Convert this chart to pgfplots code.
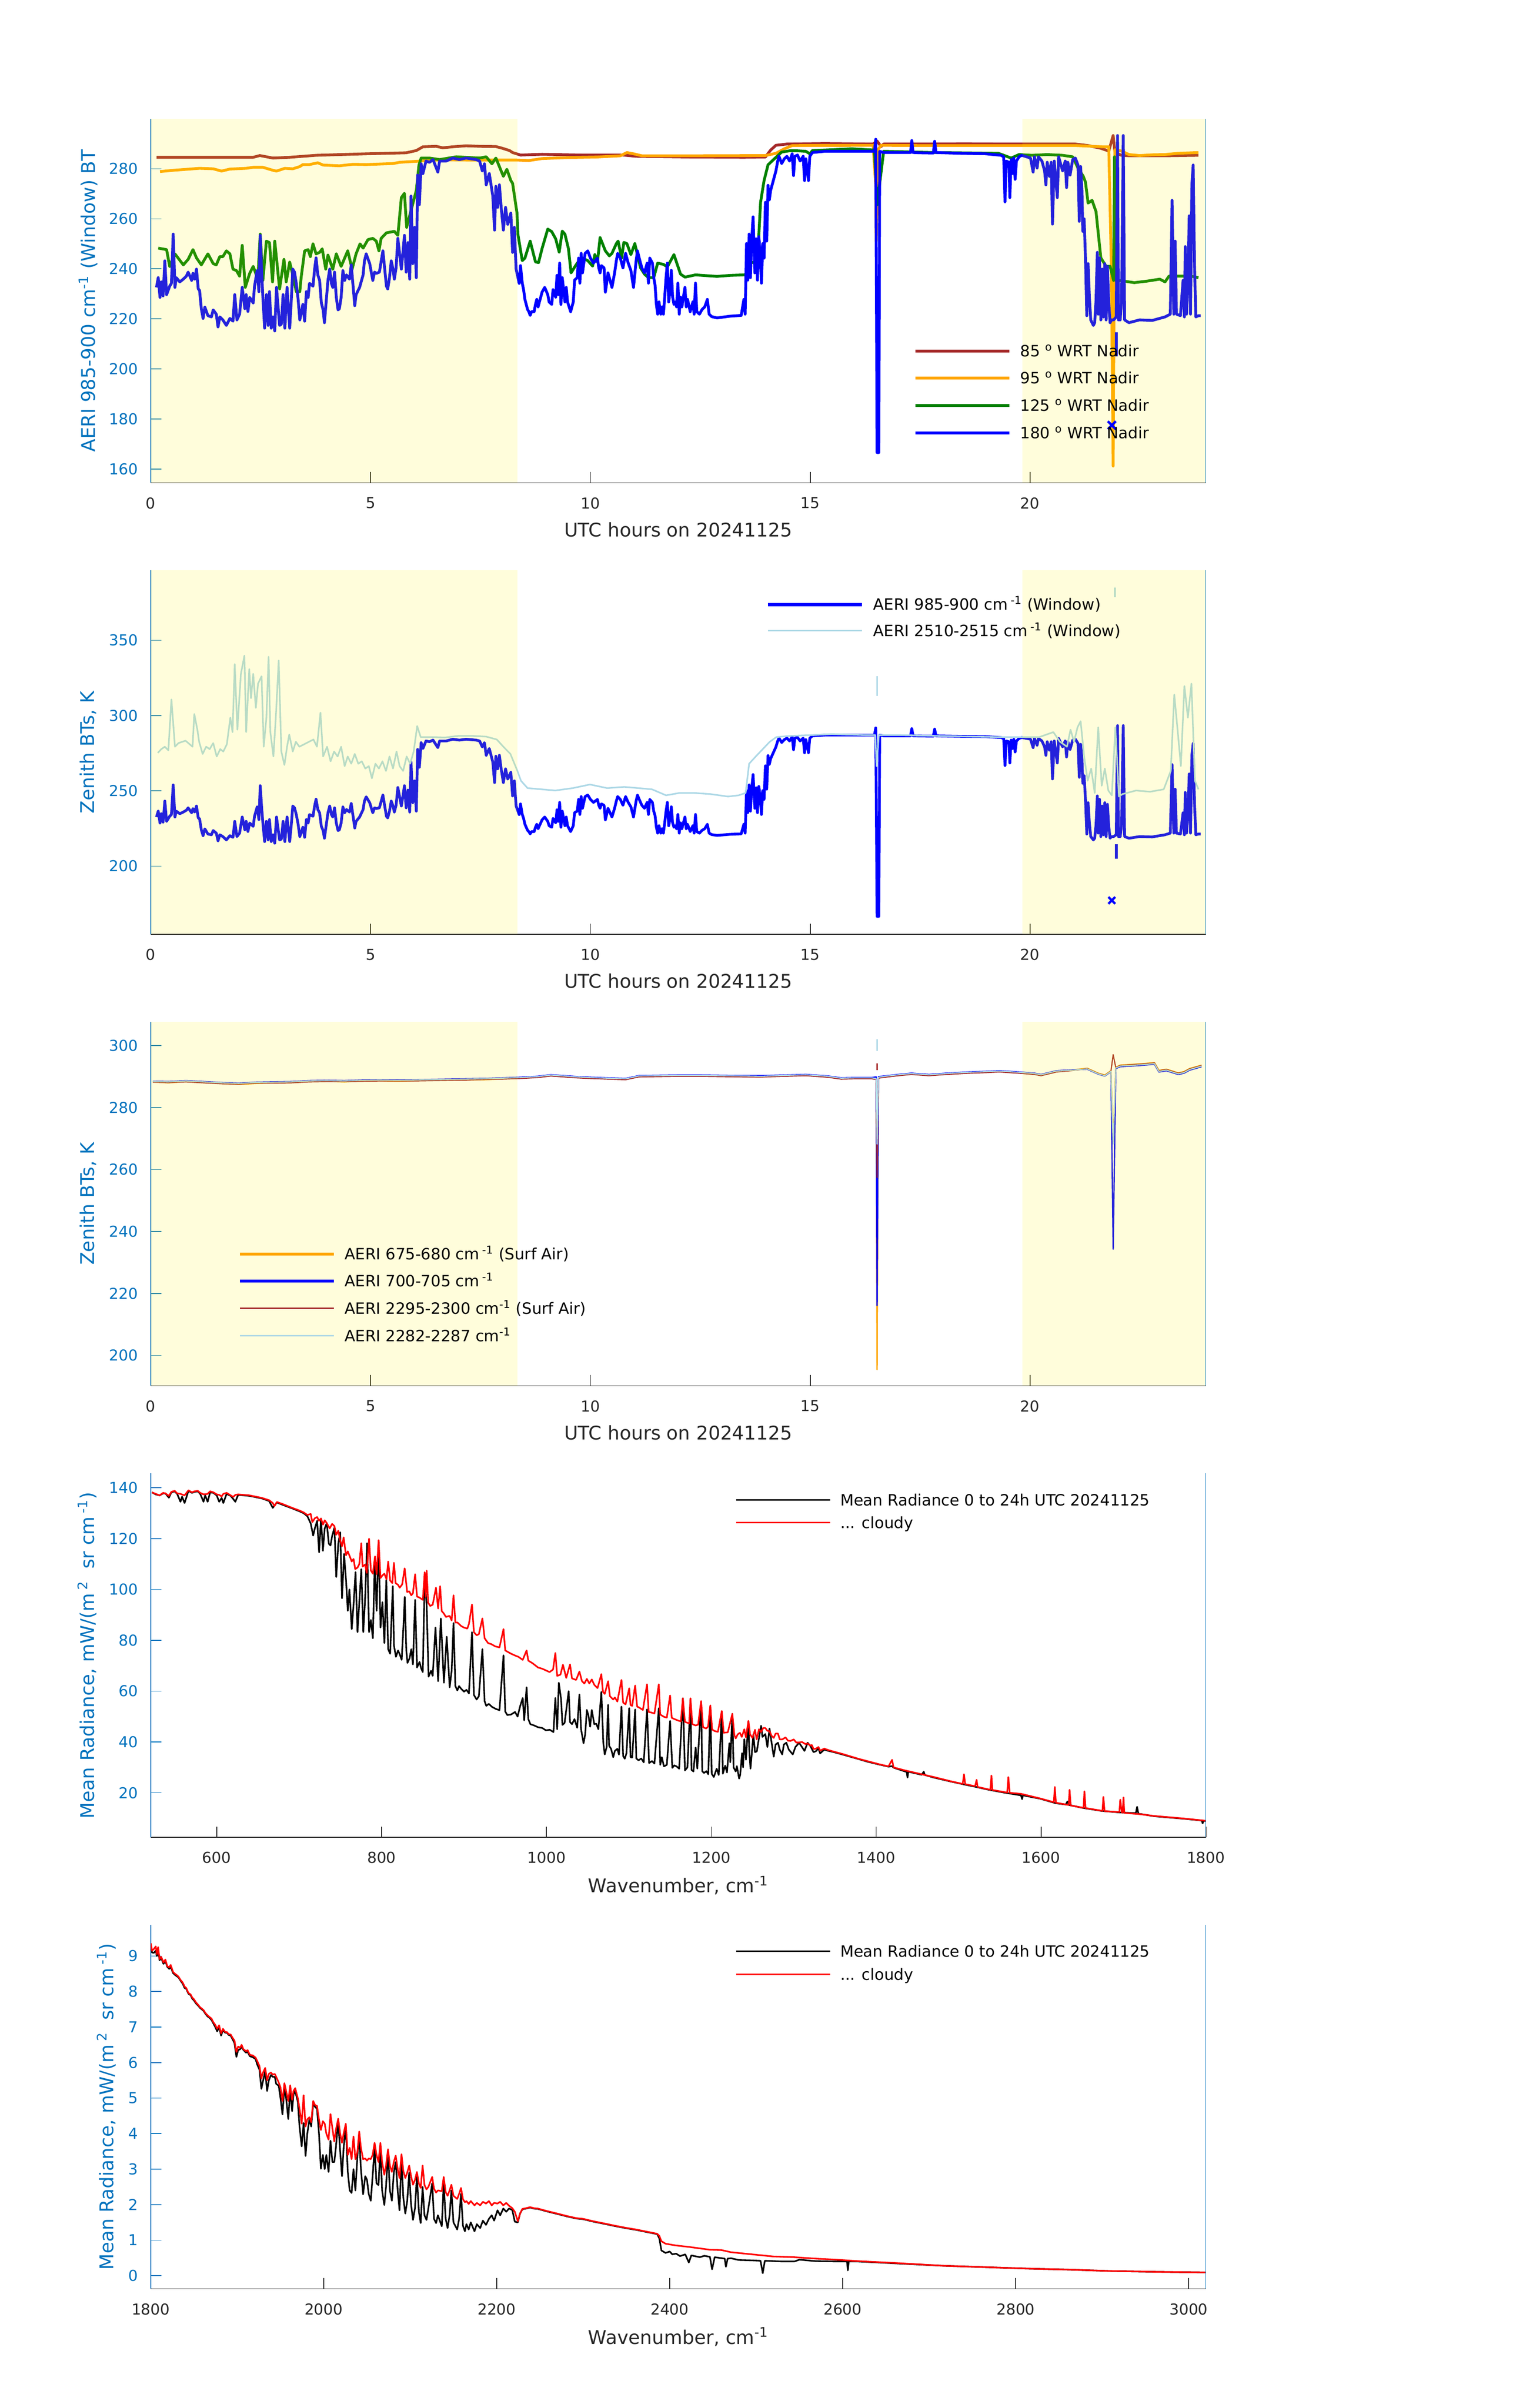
\documentclass[border=0pt]{standalone}
\usepackage{fontspec}
\setmainfont{DejaVu Sans}
\usepackage{pgfplots}
\usepackage{pgfplotstable}
\pgfplotsset{compat=1.18}
\definecolor{matblue}{HTML}{0072BD}
\definecolor{axgray}{HTML}{262626}
\definecolor{cbrown}{HTML}{A52A2A}
\definecolor{corange}{HTML}{FFA500}
\definecolor{cgreen}{HTML}{008000}
\definecolor{cblue}{HTML}{0000FF}
\definecolor{clblue}{HTML}{ADD8E6}
\pgfplotsset{
  base/.style={
    scale only axis, width=657pt, height=226.75pt,
    separate axis lines,
    axis x line*=bottom, axis y line*=left,
    tick align=inside, major tick length=6.6pt,
    x axis line style={axgray, line width=0.5pt},
    y axis line style={matblue, line width=0.5pt},
    xtick style={axgray, line width=0.5pt},
    ytick style={matblue, line width=0.5pt},
    minor tick num=0,
    tick label style={font=\fontsize{9.4}{11}\selectfont},
    xticklabel style={axgray, yshift=-5.6pt},
    yticklabel style={matblue, xshift=-4.4pt},
    /pgf/number format/assume math mode=true,
    /pgf/number format/1000 sep={},
    scaled ticks=false,
    label style={font=\fontsize{11.75}{14}\selectfont},
    xlabel style={axgray, at={(axis description cs:0.5,0)}, anchor=base, yshift=-33.5pt},
    ylabel style={matblue, at={(axis description cs:0,0.5)}, anchor=base},
    legend cell align=left,
    legend style={draw=none, fill=none, inner sep=0pt, outer sep=0pt, anchor=north west,
      font=\fontsize{9.7}{11}\selectfont, column sep=6pt, row sep=0pt},
    legend image code/.code={\draw[##1] (0pt,0pt) -- (58.5pt,0pt);},
    every axis plot/.append style={line join=round},
  }
}
\pgfplotstableread{
h v
0.13 284.6
1.20 284.6
2.33 284.6
2.48 285.3
2.63 284.8
2.78 284.3
3.16 284.6
3.76 285.4
4.90 286.0
5.81 286.4
6.04 287.3
6.19 288.8
6.49 289.0
6.64 288.4
6.87 288.8
7.17 289.2
7.48 289.0
7.85 288.9
8.00 288.2
8.16 287.3
8.23 286.5
8.41 285.5
8.90 285.8
9.82 285.5
10.74 285.5
11.04 285.0
12.27 284.7
13.49 284.6
13.98 284.7
14.10 287.5
14.22 289.4
14.47 289.9
15.33 290.1
16.43 289.9
16.52 291.1
16.61 288.9
16.67 289.9
17.50 289.9
18.50 290.0
19.50 289.9
21.03 289.9
21.32 289.3
21.61 288.2
21.79 287.1
21.89 293.3
21.93 286.5
22.08 285.4
22.25 285.2
23.07 285.2
23.83 285.4
}\tbrown
\pgfplotstableread{
h v
0.21 278.9
0.51 279.4
0.89 279.9
1.11 280.2
1.42 280.0
1.61 279.1
1.80 279.9
2.17 280.2
2.33 280.6
2.55 280.6
2.78 279.4
2.86 279.1
3.05 280.2
3.23 280.0
3.39 280.9
3.46 281.7
3.61 281.7
3.80 282.4
3.92 281.5
4.29 281.2
4.60 281.8
4.90 281.7
5.51 282.1
5.66 282.6
6.04 283.0
6.42 283.4
6.64 283.6
7.17 283.5
8.31 283.5
8.60 283.3
8.90 284.1
9.52 284.5
10.13 284.7
10.68 285.2
10.83 286.5
10.98 286.0
11.17 285.2
12.27 285.2
13.98 285.3
14.22 286.2
14.41 288.0
14.59 289.3
16.43 289.4
16.49 273.4
16.50 251.0
16.55 287.9
16.61 289.4
17.50 289.3
19.00 289.3
21.03 289.3
21.67 288.8
21.79 288.8
21.85 239.9
21.89 161.2
21.93 287.6
22.08 287.1
22.25 285.7
22.49 285.3
22.78 285.6
23.07 285.7
23.36 286.2
23.83 286.5
}\torange
\pgfplotstableread{
h v
0.17 248.3
0.36 247.7
0.43 241.0
0.55 246.0
0.74 241.6
0.85 243.8
0.96 247.7
1.04 244.4
1.15 241.6
1.30 246.0
1.42 242.1
1.49 241.6
1.57 244.9
1.64 244.9
1.72 247.2
1.80 246.0
1.87 239.9
1.95 239.3
2.02 237.1
2.08 249.4
2.15 232.6
2.25 238.2
2.33 241.0
2.40 237.6
2.44 237.6
2.49 253.9
2.55 235.4
2.63 251.1
2.70 250.5
2.77 234.8
2.82 251.1
2.93 232.0
3.03 243.8
3.08 234.8
3.16 242.7
3.23 237.6
3.31 230.9
3.39 230.9
3.42 236.5
3.50 247.2
3.58 247.7
3.63 244.9
3.69 250.0
3.76 246.0
3.84 246.6
3.90 248.0
3.98 239.9
4.03 245.5
4.14 239.9
4.22 246.0
4.33 241.0
4.48 247.2
4.58 239.9
4.67 246.0
4.76 250.0
4.83 248.3
4.94 251.7
5.05 252.2
5.13 251.1
5.19 247.2
5.24 252.2
5.36 254.4
5.54 255.0
5.62 253.4
5.70 268.5
5.77 270.2
5.82 256.6
6.04 271.4
6.10 281.5
6.15 284.3
6.34 284.3
6.57 283.7
6.95 284.8
7.48 284.3
7.63 284.8
7.76 282.0
7.85 284.3
8.02 277.0
8.10 279.8
8.19 275.3
8.23 274.2
8.33 262.3
8.35 253.9
8.45 243.3
8.51 244.3
8.63 251.1
8.75 242.8
8.82 242.5
8.90 248.1
9.03 255.9
9.12 254.9
9.21 252.0
9.29 246.7
9.36 255.1
9.42 253.9
9.50 248.1
9.56 238.4
9.63 240.4
9.70 242.3
9.82 244.3
9.94 243.3
10.05 241.1
10.10 245.7
10.16 242.8
10.22 252.5
10.34 247.2
10.43 245.2
10.49 246.2
10.59 250.1
10.63 251.1
10.71 244.3
10.76 250.6
10.83 250.1
10.92 245.7
11.01 250.1
11.14 240.4
11.23 237.9
11.32 236.5
11.44 236.5
11.53 242.3
11.66 241.8
11.75 240.8
11.90 245.7
12.05 237.9
12.15 236.7
12.39 237.6
12.63 237.3
12.88 237.0
13.18 237.4
13.49 237.6
13.55 237.9
13.64 242.3
13.80 243.3
13.87 266.6
13.95 275.3
14.04 281.6
14.16 283.6
14.35 286.7
14.53 287.2
14.71 287.2
14.90 287.0
14.99 286.0
15.05 287.3
15.33 287.5
15.94 288.0
16.46 287.5
16.52 265.6
16.67 287.0
17.83 286.5
19.28 286.2
19.57 284.3
19.75 285.7
20.04 285.4
20.39 285.7
20.74 285.4
20.97 284.8
21.09 280.3
21.21 277.0
21.26 274.7
21.32 266.3
21.41 267.4
21.50 262.9
21.55 254.4
21.61 244.4
21.73 241.0
21.82 241.0
21.90 235.4
21.92 284.8
21.95 235.4
22.02 235.4
22.37 234.5
22.66 235.1
22.95 235.9
23.07 234.8
23.16 237.1
23.36 237.1
23.65 237.1
23.83 236.5
}\tgreen
\pgfplotstableread{
h v
0.13 232.6
0.17 236.5
0.21 228.6
0.24 234.8
0.28 229.2
0.32 243.2
0.36 229.7
0.43 233.1
0.47 234.2
0.51 253.9
0.55 232.6
0.58 236.5
0.66 234.8
0.74 235.9
0.81 237.1
0.85 238.7
0.93 235.4
0.96 238.2
1.00 235.9
1.04 239.9
1.08 232.0
1.11 231.4
1.15 224.1
1.19 220.2
1.23 224.7
1.30 221.3
1.38 220.8
1.42 223.6
1.49 221.9
1.53 216.8
1.57 220.8
1.64 219.6
1.72 217.4
1.80 220.2
1.87 219.1
1.91 229.7
1.96 219.6
2.02 221.9
2.08 232.6
2.14 224.1
2.17 229.7
2.21 223.0
2.25 228.6
2.33 226.4
2.36 233.1
2.42 239.3
2.46 230.9
2.49 253.4
2.52 239.9
2.55 228.6
2.59 216.3
2.63 229.7
2.67 217.4
2.70 230.9
2.74 216.3
2.78 220.8
2.82 215.2
2.86 232.6
2.93 217.4
2.97 217.9
3.01 229.7
3.05 216.3
3.10 232.6
3.16 216.3
3.20 228.6
3.23 239.9
3.27 238.7
3.31 234.2
3.35 228.1
3.39 219.6
3.46 225.8
3.50 219.1
3.54 230.9
3.58 228.6
3.61 234.2
3.69 233.1
3.73 240.4
3.76 244.4
3.80 237.6
3.84 235.4
3.88 226.4
3.92 223.6
3.95 218.5
4.03 235.4
4.07 239.9
4.11 234.2
4.14 232.6
4.18 238.7
4.22 228.6
4.26 223.6
4.29 224.1
4.33 228.6
4.37 239.3
4.41 235.4
4.45 237.6
4.52 235.9
4.56 241.6
4.64 225.3
4.67 229.7
4.75 232.6
4.83 237.6
4.86 243.2
4.90 246.0
4.98 242.1
5.05 235.4
5.09 238.7
5.13 238.2
5.20 238.7
5.28 247.2
5.36 233.1
5.39 232.0
5.43 236.5
5.47 243.2
5.51 239.9
5.54 235.9
5.58 240.4
5.62 252.2
5.70 239.9
5.73 245.5
5.77 253.4
5.81 238.7
5.85 250.5
5.89 235.9
5.92 269.1
5.96 242.1
6.00 256.6
6.04 236.5
6.07 277.5
6.11 265.7
6.15 282.0
6.19 278.1
6.26 283.1
6.34 282.6
6.42 283.7
6.53 278.7
6.57 283.1
6.72 283.1
6.87 284.3
7.02 283.7
7.17 284.3
7.40 283.7
7.48 283.1
7.54 279.2
7.59 282.0
7.63 273.6
7.70 278.1
7.78 269.1
7.82 255.5
7.85 273.0
7.89 264.6
7.93 273.6
7.97 264.6
8.02 255.5
8.07 264.6
8.12 257.8
8.19 262.3
8.23 246.6
8.27 256.6
8.31 239.9
8.38 234.2
8.41 241.3
8.45 234.3
8.48 231.7
8.51 227.8
8.54 225.8
8.57 223.8
8.60 222.9
8.63 221.4
8.66 222.9
8.72 222.9
8.75 225.8
8.78 227.8
8.81 224.8
8.84 226.8
8.87 228.7
8.90 230.7
8.96 232.6
9.03 229.7
9.06 226.8
9.12 225.8
9.15 231.7
9.21 228.7
9.24 237.4
9.27 229.7
9.30 242.3
9.33 225.8
9.36 236.5
9.42 226.8
9.45 232.6
9.48 226.8
9.55 222.9
9.61 226.8
9.64 235.5
9.70 236.5
9.73 244.3
9.76 234.3
9.79 246.2
9.82 238.4
9.88 246.2
9.94 247.2
10.00 244.3
10.07 242.3
10.16 244.3
10.19 240.4
10.22 238.4
10.25 241.3
10.31 240.4
10.34 230.7
10.37 234.3
10.40 238.4
10.43 236.5
10.49 232.6
10.55 238.4
10.59 243.3
10.62 246.2
10.68 244.3
10.74 240.4
10.80 246.2
10.86 242.3
10.92 239.4
10.98 232.6
11.04 243.3
11.07 247.2
11.11 244.3
11.17 240.4
11.23 238.4
11.29 242.3
11.32 234.3
11.35 244.3
11.41 242.3
11.44 236.5
11.47 233.6
11.50 225.8
11.53 221.9
11.56 226.8
11.60 221.9
11.63 224.8
11.66 221.9
11.69 228.7
11.72 236.5
11.75 242.3
11.78 226.8
11.81 230.7
11.84 239.4
11.87 228.7
11.90 225.8
11.93 226.8
11.96 224.8
11.99 234.3
12.02 221.9
12.05 228.7
12.08 224.8
12.15 232.6
12.18 224.8
12.21 227.8
12.27 222.9
12.33 226.8
12.36 221.9
12.39 234.3
12.42 222.9
12.48 221.9
12.54 223.8
12.60 224.8
12.66 227.8
12.70 221.9
12.76 220.9
12.88 220.4
13.18 221.1
13.43 221.4
13.49 227.8
13.52 221.9
13.55 250.1
13.58 235.5
13.61 253.9
13.64 236.5
13.67 252.0
13.70 260.8
13.74 238.4
13.77 252.0
13.80 235.5
13.83 252.9
13.86 247.2
13.89 234.3
13.92 250.1
13.95 244.3
13.98 266.6
14.01 251.1
14.04 273.4
14.07 267.6
14.10 271.4
14.16 275.3
14.22 279.2
14.26 283.1
14.29 285.0
14.35 282.1
14.41 284.0
14.47 285.0
14.53 283.1
14.59 286.0
14.62 277.3
14.65 285.0
14.71 285.5
14.77 283.1
14.84 285.0
14.87 275.3
14.90 284.0
14.96 275.3
14.99 285.0
15.05 286.5
15.33 287.0
15.94 287.0
16.46 287.0
16.49 291.8
16.52 166.6
16.56 166.6
16.58 287.0
16.67 286.5
17.28 286.5
17.31 291.3
17.34 286.5
17.50 286.4
17.80 286.3
17.83 291.0
17.86 286.5
18.41 286.2
18.99 286.0
19.34 285.4
19.40 284.8
19.43 266.8
19.46 283.1
19.52 282.6
19.54 268.5
19.57 283.7
19.60 278.1
19.63 284.3
19.66 275.8
19.69 283.1
19.75 284.8
19.81 285.4
19.92 284.8
20.01 284.3
20.07 278.7
20.10 284.8
20.16 280.3
20.19 284.8
20.27 283.1
20.33 279.2
20.36 273.6
20.39 282.6
20.44 277.0
20.48 282.6
20.51 257.9
20.55 283.1
20.62 268.5
20.65 284.8
20.74 279.2
20.80 283.1
20.83 272.5
20.86 282.6
20.91 277.5
20.97 283.7
21.03 284.3
21.09 281.5
21.12 259.0
21.15 280.9
21.18 271.4
21.20 255.0
21.23 260.0
21.26 244.4
21.29 221.3
21.32 242.1
21.35 228.6
21.38 219.6
21.41 218.5
21.44 217.4
21.47 218.5
21.50 227.5
21.53 246.6
21.55 221.9
21.58 244.4
21.61 219.6
21.64 239.9
21.67 220.8
21.70 242.1
21.73 219.6
21.76 241.0
21.79 226.4
21.82 218.5
21.85 219.6
21.90 219.6
21.96 220.8
21.99 293.3
22.01 219.6
22.05 219.6
22.08 226.4
22.12 293.3
22.15 219.6
22.25 218.5
22.49 219.6
22.78 219.4
23.07 220.8
23.19 221.9
23.23 267.4
23.27 221.9
23.30 251.1
23.33 221.9
23.42 221.3
23.48 235.4
23.51 220.8
23.53 248.9
23.56 221.9
23.59 235.4
23.62 261.2
23.65 221.9
23.68 273.6
23.71 281.5
23.74 242.1
23.77 220.8
23.83 221.3
23.88 221.3
}\tblue
\pgfplotstableread{
h v
0.16 275.2
0.24 277.7
0.32 279.3
0.40 276.9
0.47 310.7
0.55 279.3
0.63 281.7
0.79 283.3
0.95 279.3
0.99 301.0
1.06 290.6
1.10 282.6
1.18 274.5
1.26 279.3
1.34 277.7
1.42 281.7
1.50 272.8
1.58 277.7
1.65 276.1
1.73 280.9
1.81 298.6
1.86 289.0
1.91 334.2
1.97 290.6
2.05 327.7
2.13 339.8
2.17 289.0
2.24 330.9
2.28 311.5
2.33 327.7
2.39 305.1
2.44 321.2
2.52 326.1
2.57 279.3
2.63 298.6
2.68 339.0
2.72 289.0
2.79 272.8
2.85 301.9
2.91 336.6
2.97 276.1
3.04 267.2
3.10 279.3
3.15 287.4
3.23 276.1
3.30 282.6
3.38 279.3
3.54 281.7
3.70 284.1
3.78 279.3
3.86 301.9
3.92 272.8
4.01 279.3
4.09 269.6
4.17 276.1
4.25 272.8
4.33 279.3
4.41 266.4
4.48 272.8
4.56 268.0
4.64 274.5
4.72 268.0
4.80 269.6
4.88 264.8
4.96 266.4
5.03 258.3
5.11 268.0
5.19 264.8
5.27 269.6
5.35 263.2
5.43 272.8
5.51 264.8
5.59 276.1
5.66 266.4
5.74 263.2
5.82 272.8
5.90 268.0
5.98 276.1
6.06 293.0
6.14 285.7
6.37 285.7
6.69 285.4
7.00 286.5
7.32 286.5
7.63 286.0
7.87 284.1
8.02 279.3
8.18 274.5
8.34 263.2
8.42 256.7
8.57 251.8
8.89 251.0
9.20 250.2
9.60 251.8
9.99 254.2
10.38 251.8
10.77 252.6
11.09 251.8
11.40 251.0
11.72 247.0
12.03 248.6
12.35 248.6
12.74 247.8
13.13 246.2
13.37 247.0
13.53 248.6
13.61 268.0
13.76 272.8
13.92 277.7
14.08 282.6
14.23 285.7
14.55 286.5
15.02 287.0
15.49 287.7
16.28 287.0
16.48 287.0
16.51 266.4
16.56 287.0
17.07 287.0
17.85 286.5
18.64 286.0
19.42 285.7
20.21 285.7
20.53 289.0
20.68 282.6
20.84 279.3
20.92 290.6
21.00 282.6
21.08 292.2
21.15 296.2
21.23 272.8
21.31 256.7
21.39 264.8
21.47 248.6
21.55 292.2
21.63 253.4
21.70 264.8
21.78 250.2
21.86 247.0
21.94 292.2
22.02 246.2
22.10 247.8
22.41 250.2
22.73 249.4
23.04 251.0
23.20 263.2
23.28 314.0
23.36 289.0
23.43 266.4
23.51 319.6
23.59 298.6
23.67 321.2
23.75 256.7
23.83 251.0
}\tlblue
\pgfplotstableread{
h o b r l
0.05 288.3 288.5 288.2 288.4
0.4 288.0 288.4 288.1 288.3
0.8 288.4 288.7 288.3 288.6
1.2 288.1 288.4 288.0 288.3
1.6 287.8 288.1 287.7 288.0
2.0 287.5 287.9 287.6 287.8
2.4 287.8 288.2 287.9 288.1
2.8 288.0 288.3 287.9 288.2
3.2 288.1 288.4 288.0 288.3
3.6 288.4 288.7 288.3 288.6
4.0 288.5 288.8 288.4 288.7
4.4 288.3 288.7 288.4 288.6
4.8 288.6 288.9 288.5 288.8
5.2 288.7 289.0 288.6 288.9
5.6 288.5 288.9 288.6 288.8
6.0 288.7 289.0 288.6 288.9
6.4 288.8 289.1 288.7 289.0
6.8 288.9 289.2 288.8 289.1
7.2 289.0 289.3 288.9 289.2
7.6 289.0 289.4 289.1 289.3
8.0 289.3 289.6 289.2 289.5
8.4 289.5 289.8 289.4 289.7
8.8 289.8 290.1 289.7 290.0
9.1 290.3 290.6 290.2 290.5
9.4 290.0 290.3 289.9 290.2
9.7 289.7 290.0 289.6 289.9
10.0 289.5 289.8 289.4 289.7
10.4 289.3 289.6 289.2 289.5
10.8 289.1 289.4 289.0 289.3
11.1 290.0 290.3 289.9 290.2
11.5 290.1 290.4 290.0 290.3
12.0 290.2 290.5 290.1 290.4
12.5 290.2 290.5 290.1 290.4
13.0 290.1 290.4 290.0 290.3
13.5 290.0 290.3 289.9 290.2
13.9 289.9 290.3 289.9 290.1
14.4 290.2 290.5 290.1 290.4
14.9 290.4 290.7 290.3 290.6
15.4 289.9 290.2 289.8 290.1
15.7 289.3 289.6 289.2 289.5
16.0 289.4 289.7 289.3 289.6
16.4 289.4 289.7 289.3 289.6
16.50 289.2 289.9 289.1 289.4
16.52 195.4 216.1 257.4 268.2
16.55 289.6 290.0 289.5 289.8
16.7 289.9 290.2 289.8 290.1
17.0 290.4 290.7 290.3 290.6
17.3 290.8 291.1 290.7 291.0
17.7 290.4 290.7 290.3 290.6
18.1 290.8 291.1 290.7 291.0
18.6 291.2 291.5 291.1 291.4
19.0 291.4 291.7 291.3 291.6
19.3 291.6 291.9 291.5 291.8
19.75 291.2 291.5 291.1 291.4
20.1 290.8 291.1 290.7 291.0
20.25 290.4 290.7 290.3 290.6
20.6 291.6 291.9 291.5 291.8
21.0 292.2 292.2 292.0 292.1
21.3 292.7 292.4 292.6 292.5
21.55 291.1 290.8 291.0 290.9
21.7 290.5 290.2 290.4 290.3
21.84 291.9 291.6 291.8 291.7
21.89 269.0 234.3 297.1 268.2
21.95 293.0 292.6 292.9 292.8
22.05 293.7 293.2 293.6 293.4
22.5 294.1 293.6 294.0 293.8
22.83 294.5 294.0 294.4 294.2
22.93 292.0 291.5 291.9 291.7
23.1 292.4 291.9 292.3 292.1
23.37 291.2 290.7 291.1 290.9
23.5 291.6 291.1 291.5 291.3
23.63 292.6 292.1 292.5 292.3
23.83 293.4 292.9 293.3 293.1
23.9 293.7 293.2 293.6 293.4
}\tsurf
\begin{document}
\begin{tikzpicture}
\useasboundingbox (0,0) rectangle (956.25pt,1500pt);
% ---------------- Panel 1
\begin{axis}[base, at={(93.875pt,1199.25pt)}, anchor=south west,
  xmin=0, xmax=24, ymin=154.5, ymax=300,
  xtick={0,5,10,15,20}, ytick={160,180,200,220,240,260,280},
  xlabel={UTC hours on 20241125},
  ylabel={AERI 985-900 cm\textsuperscript{-1} (Window) BT},
  ylabel style={yshift=34.6pt},
  legend style={at={(0.7232,0.3998)}, nodes={inner sep=0pt, text height=12pt, text depth=5pt}},
]
\addplot[cbrown, line width=1.75pt, forget plot] table {\tbrown};
\addplot[corange, line width=1.75pt, forget plot] table {\torange};
\addplot[cgreen, line width=1.75pt, forget plot] table {\tgreen};
\addplot[cblue, line width=1.75pt, forget plot] table {\tblue};
\addplot[cblue, line width=1.75pt, forget plot] coordinates {(21.96,214.6) (21.96,205.0)};
\addplot[cblue, only marks, mark=x, mark size=3.5pt, line width=1.5pt, forget plot] coordinates {(21.86,177.5)};
\addplot[draw=none, fill=yellow, fill opacity=0.14, forget plot] coordinates {(0,154.5) (8.34,154.5) (8.34,300) (0,300)} -- cycle;
\addplot[draw=none, fill=yellow, fill opacity=0.14, forget plot] coordinates {(19.83,154.5) (24,154.5) (24,300) (19.83,300)} -- cycle;
\draw[matblue, line width=0.4pt] (rel axis cs:1,0) -- (rel axis cs:1,1);
\addlegendimage{cbrown, line width=1.75pt}
\addlegendimage{corange, line width=1.75pt}
\addlegendimage{cgreen, line width=1.75pt}
\addlegendimage{cblue, line width=1.75pt}
\legend{85~\textsuperscript{o}~WRT Nadir, 95~\textsuperscript{o}~WRT Nadir, 125~\textsuperscript{o}~WRT Nadir, 180~\textsuperscript{o}~WRT Nadir}
\end{axis}
% ---------------- Panel 2
\begin{axis}[base, at={(93.875pt,918pt)}, anchor=south west,
  xmin=0, xmax=24, ymin=154.7, ymax=396.5,
  xtick={0,5,10,15,20}, ytick={200,250,300,350},
  xlabel={UTC hours on 20241125},
  ylabel={Zenith BTs, K},
  ylabel style={yshift=35.1pt},
  legend style={at={(0.5832,0.9416)}, nodes={inner sep=0pt, text height=11.6pt, text depth=4.65pt}},
]
\addplot[cblue, line width=1.7pt, forget plot] table {\tblue};
\addplot[cblue, line width=1.7pt, forget plot] coordinates {(21.96,214.6) (21.96,205.0)};
\addplot[cblue, only marks, mark=x, mark size=3pt, line width=1.4pt, forget plot] coordinates {(21.86,177.2)};
\addplot[clblue, line width=1.0pt, forget plot] table {\tlblue};
\addplot[clblue, line width=1.0pt, forget plot] coordinates {(16.52,326.1) (16.52,313.2)};
\addplot[clblue, line width=1.0pt, forget plot] coordinates {(21.93,385.0) (21.93,378.5)};
\addplot[draw=none, fill=yellow, fill opacity=0.14, forget plot] coordinates {(0,154.7) (8.34,154.7) (8.34,396.5) (0,396.5)} -- cycle;
\addplot[draw=none, fill=yellow, fill opacity=0.14, forget plot] coordinates {(19.83,154.7) (24,154.7) (24,396.5) (19.83,396.5)} -- cycle;
\draw[matblue, line width=0.4pt] (rel axis cs:1,0) -- (rel axis cs:1,1);
\addlegendimage{cblue, line width=2.25pt}
\addlegendimage{clblue, line width=1.1pt}
\legend{AERI 985-900 cm\,\textsuperscript{-1} (Window), AERI 2510-2515 cm\,\textsuperscript{-1} (Window)}
\end{axis}
% ---------------- Panel 3
\begin{axis}[base, at={(93.875pt,636.75pt)}, anchor=south west,
  xmin=0, xmax=24, ymin=190.2, ymax=307.7,
  xtick={0,5,10,15,20}, ytick={200,220,240,260,280,300},
  xlabel={UTC hours on 20241125},
  ylabel={Zenith BTs, K},
  ylabel style={yshift=35.1pt},
  legend style={at={(0.0831,0.3998)}, nodes={inner sep=0pt, text height=12pt, text depth=5pt}},
]
\addplot[corange, line width=0.8pt, forget plot] table[x=h, y=o] {\tsurf};
\addplot[cblue, line width=0.8pt, forget plot] table[x=h, y=b] {\tsurf};
\addplot[cbrown, line width=0.7pt, forget plot] table[x=h, y=r] {\tsurf};
\addplot[cbrown, line width=0.9pt, forget plot] coordinates {(16.525,294.2) (16.525,292.1)};
\addplot[clblue, line width=0.7pt, forget plot] table[x=h, y=l] {\tsurf};
\addplot[clblue, line width=0.9pt, forget plot] coordinates {(16.52,302.0) (16.52,298.3)};
\addplot[draw=none, fill=yellow, fill opacity=0.14, forget plot] coordinates {(0,190.2) (8.34,190.2) (8.34,307.7) (0,307.7)} -- cycle;
\addplot[draw=none, fill=yellow, fill opacity=0.14, forget plot] coordinates {(19.83,190.2) (24,190.2) (24,307.7) (19.83,307.7)} -- cycle;
\draw[matblue, line width=0.4pt] (rel axis cs:1,0) -- (rel axis cs:1,1);
\addlegendimage{corange, line width=1.75pt}
\addlegendimage{cblue, line width=1.75pt}
\addlegendimage{cbrown, line width=0.9pt}
\addlegendimage{clblue, line width=0.9pt}
\legend{AERI 675-680 cm\,\textsuperscript{-1} (Surf Air), AERI 700-705 cm\,\textsuperscript{-1}, AERI 2295-2300 cm\textsuperscript{-1} (Surf Air), AERI 2282-2287 cm\textsuperscript{-1}}
\end{axis}
% ---------------- Panel 4
\begin{axis}[base, at={(93.875pt,355.5pt)}, anchor=south west,
  xmin=520, xmax=1800, ymin=2.5, ymax=145.7,
  xtick={600,800,1000,1200,1400,1600,1800}, ytick={20,40,60,80,100,120,140},
  xlabel={Wavenumber, cm\textsuperscript{-1}},
  xlabel style={yshift=-1pt},
  ylabel={Mean Radiance, mW/(m\,\textsuperscript{2}~~sr cm\,\textsuperscript{-1})},
  ylabel style={yshift=35.2pt},
  legend style={at={(0.554,0.9582)}, nodes={inner sep=0pt, text height=10.6pt, text depth=3.65pt}},
]
\addplot[black, line width=1.0pt, forget plot] coordinates {
(521.4,138.2) (526,137.4) (530.7,137.0) (535,137.8) (537.7,137.8) (542,136.1) (545,138.2) (549,138.6) (552,137.6) (556,134.5) (558,136.5) (561,134.0) (563,136.0) (565.7,138.8) (570,138.0) (573,138.4) (577,138.6) (580,137.6) (584,134.5) (586,137.0) (589,134.5) (592,138.2) (596,138.0) (600,137.0) (603,134.5) (606,136.0) (608,134.0) (612,137.6) (617,136.8) (620,135.6) (622.6,134.5) (626,137.2) (640,136.8) (655,135.8) (663.6,134.8) (668,132.1) (672.9,134.2) (680,133.3) (691.5,131.9) (700,130.8) (705.5,130.0) (710,128.8) (714,126.0) (717,121.2) (719,124.0) (721.8,127.0) (724.2,114.6) (726.5,127.9) (728.8,115.2) (731,124.0) (733.5,126.1) (736,118.0) (738,117.3) (740,121.0) (742.8,124.3) (745,104.9) (747.5,118.0) (749.8,122.5) (752,96.5) (754.5,114.0) (757,103.0) (759,91.6) (761,100.0) (763.8,84.4) (766,94.0) (768.4,106.8) (770.8,83.2) (773,95.0) (775.4,108.0) (777.8,83.2) (780,96.0) (782.4,118.2) (784.8,83.2) (787,88.0) (789.4,80.8) (791.7,111.0) (794,91.6) (796.4,118.8) (798.7,85.0) (801,95.0) (803.4,78.9) (805.7,103.7) (808,76.5) (810.4,74.7) (813.6,101.3) (815,78.0) (817.4,73.5) (820,76.0) (822,74.5) (824.4,72.3) (826.7,86.8) (828.1,97.1) (830,76.0) (831.4,71.1) (834,73.0) (836,76.5) (838,70.5) (840.7,95.9) (843,69.3) (846,71.5) (848,69.0) (850,67.5) (852.3,104.9) (854.7,93.5) (857,65.7) (860,68.0) (862,66.0) (865.4,85.0) (868.6,63.9) (871.9,88.6) (875.6,63.3) (879,81.4) (882.6,61.5) (885,68.0) (887.3,86.8) (889.5,62.0) (891.9,60.3) (894,62.0) (896.6,60.9) (900,59.8) (903,60.5) (906,59.1) (909.7,83.2) (912,58.5) (915.3,56.7) (918,58.0) (922.3,76.5) (925,56.0) (927,54.2) (930,55.0) (934,53.8) (938.6,53.0) (943,52.5) (947.9,74.1) (950,52.0) (952.5,50.6) (957,50.8) (961.9,51.8) (965,50.0) (968,54.0) (971.2,57.3) (973,48.5) (975.9,61.5) (978,49.0) (980.5,47.0) (985,46.5) (989.8,45.8) (995,45.5) (999.2,44.6) (1004,44.8) (1008.5,43.9) (1010.8,57.3) (1013,45.0) (1015,63.3) (1017.8,56.7) (1019.4,46.7) (1022,47.5) (1027,60.0) (1028.6,47.8) (1031,47.0) (1034,49.0) (1037.3,45.6) (1040,58.7) (1042,45.0) (1045,39.5) (1047,43.0) (1049,52.6) (1051,50.4) (1053,46.0) (1055,52.6) (1058,47.0) (1060.4,47.2) (1063,45.0) (1066.6,59.7) (1069,39.5) (1070.7,35.1) (1073,38.0) (1074.8,54.6) (1076,38.5) (1078.4,37.3) (1081,34.0) (1083,36.5) (1086,37.3) (1088,35.0) (1091,53.9) (1093,34.5) (1095,33.4) (1097,35.5) (1100.4,53.3) (1102,34.0) (1104,33.9) (1107.6,52.8) (1109,33.5) (1111.7,32.8) (1115,33.5) (1118,32.0) (1122,52.8) (1124.5,31.7) (1128,32.5) (1131,31.5) (1136.3,53.3) (1138,31.0) (1140,34.0) (1142.5,30.4) (1146,31.0) (1150,48.3) (1152.7,29.8) (1155,30.8) (1157.8,30.4) (1161,29.5) (1165.5,57.2) (1168,28.8) (1171,30.0) (1174.7,56.7) (1176,29.0) (1178.3,28.4) (1181,37.8) (1183,29.5) (1187.6,55.6) (1189,28.5) (1191,27.8) (1194,28.5) (1196.3,27.3) (1198.8,54.0) (1200.5,27.5) (1203,26.2) (1206.5,29.5) (1209,27.0) (1212.7,51.6) (1214,27.5) (1216.8,30.7) (1219,28.0) (1221.9,39.5) (1223,32.0) (1225.5,51.1) (1227,30.0) (1229.6,28.4) (1231,30.5) (1233.7,25.6) (1235,27.0) (1237.3,35.6) (1238.5,30.0) (1240,41.1) (1242,33.0) (1245,48.2) (1246,37.0) (1247.5,29.5) (1249,35.0) (1251,43.0) (1253,36.0) (1255.2,36.3) (1257,40.0) (1260.4,46.4) (1262,42.0) (1265.5,43.1) (1268,38.0) (1270.6,45.3) (1273,40.0) (1275.7,34.2) (1278,39.0) (1280.9,39.7) (1283,37.0) (1286,35.1) (1288,39.0) (1291,39.7) (1294,37.0) (1298.8,35.1) (1302,38.0) (1306.5,39.7) (1310,38.0) (1313,36.5) (1316.8,39.7) (1320,38.5) (1324,36.0) (1327,36.4) (1330,37.5) (1332,35.5) (1337,37.0) (1342,36.5) (1347.5,36.1) (1360,35.0) (1378.3,33.3) (1390,32.2) (1404,31.1) (1415,30.3) (1419.3,30.5) (1421,29.9) (1437,28.2) (1438,26.0) (1439,28.3) (1455.2,27.1) (1457.7,28.3) (1459,27.0) (1470,26.0) (1491,24.4) (1508,23.2) (1520,22.4) (1535,21.3) (1555,20.1) (1575.7,19.0) (1577,17.5) (1578,19.0) (1598.7,17.7) (1618,15.9) (1630,15.4) (1632,16.6) (1634,15.2) (1650,14.1) (1673,12.9) (1694,12.3) (1715,12.0) (1716.5,14.5) (1718,11.8) (1737,10.8) (1773,9.8) (1795,9.1) (1796,8.0) (1797,9.0) (1800,8.9)};
\addplot[red, line width=1.0pt, forget plot] coordinates {
(521.4,138.2) (526,137.6) (530.7,137.0) (535,138.0) (537.7,137.8) (542,136.8) (545,138.4) (549,138.8) (552,137.8) (556,137.6) (561,137.0) (565.7,139.0) (570,138.2) (573,138.6) (577,138.8) (580,138.0) (584,137.4) (589,137.6) (592,138.6) (596,138.2) (600,137.4) (603,137.2) (606,136.6) (608,137.6) (612,138.0) (617,137.0) (620,136.4) (622.6,137.2) (626,137.4) (640,137.0) (655,136.0) (663.6,135.1) (668,134.0) (670,132.8) (672.9,134.4) (680,133.6) (691.5,132.1) (700,131.1) (705.5,130.3) (710,129.3) (714,129.7) (716,126.5) (719,128.0) (721.8,128.5) (724,127.0) (726.5,127.9) (729,125.5) (731,127.2) (733.5,126.1) (737,124.0) (740,125.8) (742.8,124.9) (745,121.5) (747.5,123.1) (750,119.0) (752,117.0) (754,120.5) (756.8,113.4) (759,115.0) (763.8,111.0) (766,112.0) (768,108.0) (770.8,108.6) (773,110.0) (775.4,118.2) (777,109.0) (780,109.8) (782,106.5) (784.8,120.0) (787,107.5) (789.4,106.2) (792,113.0) (794,106.0) (796.4,119.4) (798.7,104.5) (801,105.5) (803.4,106.2) (806,104.0) (808,111.0) (810.4,103.5) (813,102.5) (815,110.5) (817,102.5) (820,101.8) (822,100.7) (825,102.0) (828,108.3) (831,99.0) (833.5,99.3) (836,97.7) (838,98.5) (840.7,106.0) (843,97.2) (846,96.8) (850,95.9) (852.3,106.8) (853.5,97.0) (854.7,107.4) (856.5,94.8) (859,93.5) (862,94.0) (866,100.7) (868.6,92.5) (871,101.3) (873,91.5) (875.6,90.5) (878,89.2) (882.6,89.6) (885,87.8) (887.3,97.7) (889.5,87.0) (892,87.0) (896.6,85.6) (900,85.0) (904,84.6) (906,86.5) (909.7,94.1) (912,83.2) (915.3,82.0) (918,82.4) (922.3,88.6) (925,80.8) (929.2,78.9) (933,78.5) (938,77.6) (943,77.2) (947.9,84.4) (950,76.0) (957.2,74.7) (962,74.0) (966,73.5) (971.2,72.3) (975.9,76.0) (978,72.0) (983,71.0) (989.8,69.3) (995,68.8) (1003.8,67.5) (1008,68.5) (1010.8,75.0) (1013,66.0) (1017,66.5) (1020,70.4) (1024,65.2) (1028.6,70.5) (1031,65.0) (1036,64.4) (1040,67.7) (1043,64.0) (1046,63.0) (1049,64.8) (1052,63.0) (1055,64.6) (1058,62.5) (1062,61.2) (1066.6,66.7) (1068.5,59.8) (1070.7,58.9) (1074.8,63.9) (1077,58.0) (1081,56.7) (1083,57.5) (1086,55.9) (1091,64.4) (1093,55.5) (1096,54.8) (1100.4,61.1) (1102,54.5) (1104,54.2) (1107.6,62.2) (1110,53.9) (1111.7,53.7) (1117,52.6) (1122,62.7) (1124,51.8) (1127,51.6) (1131,51.2) (1136.3,62.7) (1138,50.8) (1142.5,49.9) (1146,49.6) (1150,58.3) (1152,49.5) (1155.3,49.0) (1160,48.4) (1163,48.1) (1165.5,57.2) (1168,47.9) (1173.2,47.3) (1174.7,57.2) (1177,47.0) (1181,46.5) (1184,46.8) (1187.6,56.1) (1190,45.8) (1193.7,45.3) (1196,46.0) (1198.8,54.4) (1201,44.9) (1204,44.3) (1208,44.0) (1212.7,52.2) (1215,43.6) (1216.8,43.7) (1220,43.8) (1225.5,51.1) (1228,42.6) (1229.6,41.4) (1232,43.0) (1234.7,43.6) (1237,42.0) (1240,45.0) (1242,41.8) (1245,48.3) (1247,43.0) (1250,41.6) (1253,44.8) (1255,41.0) (1257.8,45.0) (1260.4,43.9) (1263,45.5) (1265.5,45.5) (1268,44.4) (1270.6,44.3) (1273,42.5) (1275.7,41.6) (1278,43.3) (1280.9,43.3) (1283,41.0) (1286,41.0) (1290,41.8) (1293,40.5) (1296,40.4) (1300,41.0) (1303,39.8) (1306.5,39.8) (1310,40.0) (1314,39.2) (1316.8,39.4) (1320,38.6) (1322,38.8) (1324,37.2) (1327,37.4) (1330,38.0) (1332,36.6) (1337,37.4) (1342,36.8) (1347.5,36.3) (1360,35.2) (1378.3,33.4) (1390,32.4) (1404,31.2) (1415,30.4) (1419.3,33.0) (1421,30.0) (1435,28.8) (1455.2,27.3) (1470,26.2) (1491,24.5) (1505,23.5) (1506.5,27.3) (1508,23.4) (1520,22.6) (1521.8,25.1) (1523,22.3) (1538.5,21.2) (1539.8,26.8) (1541,21.1) (1559,20.1) (1560.3,26.2) (1562,20.0) (1575.7,19.6) (1598.7,17.8) (1615.5,16.3) (1616.7,22.3) (1618,16.1) (1633.5,15.2) (1634.6,21.2) (1636,15.0) (1651.5,14.1) (1652.6,20.6) (1654,14.0) (1674.5,12.9) (1675.6,18.4) (1677,12.8) (1695,12.4) (1696.1,17.3) (1698,12.2) (1699,12.2) (1700,18.2) (1701,12.1) (1720,11.6) (1737,10.9) (1773,9.9) (1800,9.0)};
\draw[matblue, line width=0.4pt] (rel axis cs:1,0) -- (rel axis cs:1,1);
\addlegendimage{black, line width=0.9pt}
\addlegendimage{red, line width=0.9pt}
\legend{Mean Radiance 0 to 24h UTC 20241125, .{}.{}. cloudy}
\end{axis}
% ---------------- Panel 5
\begin{axis}[base, at={(93.875pt,74.25pt)}, anchor=south west,
  xmin=1800, xmax=3020, ymin=-0.37, ymax=9.88,
  xtick={1800,2000,2200,2400,2600,2800,3000}, ytick={0,1,2,3,4,5,6,7,8,9},
  xlabel={Wavenumber, cm\textsuperscript{-1}},
  xlabel style={yshift=-1pt},
  ylabel={Mean Radiance, mW/(m\,\textsuperscript{2}~~sr cm\,\textsuperscript{-1})},
  ylabel style={yshift=23.2pt},
  legend style={at={(0.554,0.9582)}, nodes={inner sep=0pt, text height=10.6pt, text depth=3.65pt}},
]
\addplot[black, line width=1.0pt, forget plot] coordinates {
(1800,9.30) (1801.5,9.10) (1803.6,9.09) (1805.8,9.15) (1807,9.00) (1808.5,9.15) (1810.2,8.88) (1812,8.95) (1814.7,8.78) (1816.9,8.86) (1819,8.70) (1821.3,8.64) (1823,8.70) (1825.8,8.52) (1828,8.47) (1830.2,8.43) (1832,8.40) (1834.6,8.30) (1837,8.22) (1839.1,8.10) (1841,8.08) (1843.5,7.94) (1846,7.90) (1848,7.80) (1850,7.75) (1852.4,7.66) (1855,7.60) (1856.9,7.54) (1859,7.50) (1861.3,7.45) (1863,7.38) (1865.7,7.30) (1868,7.26) (1870.2,7.20) (1872,7.12) (1874.6,7.00) (1876.8,6.88) (1879,7.00) (1881.3,6.76) (1883.5,6.92) (1886,6.84) (1888,6.84) (1890,6.78) (1892.4,6.76) (1894.5,6.66) (1896.8,6.55) (1899,6.16) (1901,6.35) (1903.5,6.38) (1905,6.45) (1907,6.36) (1910.1,6.28) (1912,6.30) (1914.5,6.18) (1918,6.15) (1921.2,6.10) (1923,5.95) (1925.7,5.80) (1927.9,5.26) (1929.5,5.45) (1932.3,5.75) (1934.5,5.20) (1936.5,5.50) (1939,5.65) (1941,5.60) (1943.4,5.60) (1945,5.40) (1947.9,5.35) (1950,5.00) (1952.3,4.54) (1954.5,5.30) (1956.5,5.00) (1959,4.41) (1961.2,5.25) (1963.4,4.63) (1965,5.10) (1967,5.20) (1970,4.90) (1972,4.20) (1974.5,3.64) (1976.7,4.30) (1979,3.37) (1981,4.00) (1983.4,4.40) (1985.5,4.20) (1987.8,4.85) (1990,4.75) (1992.2,4.70) (1994.5,4.00) (1996.7,3.01) (1999,3.40) (2001.1,3.00) (2003,3.40) (2005.6,2.92) (2007.8,3.80) (2010,3.20) (2012.2,3.20) (2014,3.60) (2016.7,4.35) (2019,3.50) (2021.1,2.80) (2023,3.60) (2025.5,4.20) (2027.8,2.92) (2030,2.40) (2032.2,2.33) (2034.4,3.00) (2036.6,2.40) (2039,3.40) (2041,3.90) (2043,3.00) (2045.5,2.29) (2048,2.80) (2050,2.70) (2052,2.30) (2054.4,2.11) (2056.5,2.80) (2058.8,3.60) (2061,2.60) (2063.3,2.55) (2065.5,3.60) (2067.5,2.40) (2070,1.99) (2072,2.50) (2074.3,3.45) (2076.5,2.40) (2078.8,2.11) (2081,2.90) (2083.2,3.20) (2085.5,2.40) (2087.6,1.84) (2089.9,3.30) (2092,2.20) (2094.3,1.75) (2096.5,2.10) (2098.8,2.90) (2101,2.00) (2103.2,1.57) (2105.5,1.90) (2107.7,2.80) (2110,1.80) (2112.1,1.48) (2114.3,2.50) (2116.5,1.70) (2118.8,1.57) (2121,1.90) (2125.4,2.60) (2127.5,1.60) (2129.9,1.48) (2132,1.70) (2136.5,1.39) (2138.7,2.60) (2141,1.60) (2143.2,1.34) (2145.5,1.70) (2147.6,2.40) (2150,1.50) (2154.3,1.30) (2156.5,1.60) (2158.7,2.30) (2161,1.40) (2163.2,1.25) (2165,1.45) (2167.6,1.30) (2170,1.50) (2174.3,1.25) (2177,1.45) (2180.9,1.34) (2184,1.55) (2187.6,1.43) (2191,1.60) (2194.2,1.70) (2197,1.55) (2200.9,1.84) (2204,1.70) (2207.6,1.89) (2211,1.80) (2214.2,1.89) (2218,1.85) (2220.9,1.52) (2224.4,1.50) (2227,1.75) (2229.7,1.87) (2234,1.89) (2238.6,1.92) (2243,1.89) (2247.5,1.88) (2258,1.81) (2269.7,1.74) (2281,1.67) (2292,1.61) (2300,1.59) (2312,1.52) (2324.4,1.46) (2336,1.40) (2348.8,1.34) (2361,1.29) (2373.3,1.23) (2385.5,1.17) (2388,1.05) (2390.4,0.71) (2395.2,0.64) (2400,0.68) (2403,0.60) (2407.4,0.62) (2412,0.55) (2418,0.60) (2422.1,0.37) (2425,0.57) (2435,0.52) (2440,0.56) (2446.5,0.53) (2449,0.18) (2452,0.52) (2463.6,0.48) (2465,0.25) (2467,0.48) (2470.9,0.49) (2480,0.44) (2495.3,0.43) (2505,0.42) (2507.6,0.07) (2510,0.42) (2519.8,0.41) (2530,0.40) (2544.2,0.40) (2550,0.45) (2568.6,0.41) (2593,0.40) (2605,0.40) (2606,0.15) (2607,0.40) (2617.4,0.40) (2666.2,0.34) (2715.1,0.28) (2763.9,0.24) (2812.7,0.20) (2861.6,0.17) (2910.4,0.13) (2959.2,0.11) (3019.3,0.09)};
\addplot[red, line width=1.0pt, forget plot] coordinates {
(1800,9.36) (1801.5,9.15) (1803.6,9.20) (1805.8,9.27) (1807,9.05) (1808.5,9.25) (1810.2,8.91) (1812,8.98) (1814.7,8.82) (1816.9,8.90) (1819,8.72) (1821.3,8.68) (1823,8.75) (1825.8,8.55) (1828,8.50) (1830.2,8.46) (1832,8.42) (1834.6,8.32) (1837,8.25) (1839.1,8.14) (1841,8.10) (1843.5,7.96) (1846,7.92) (1848,7.83) (1850,7.78) (1852.4,7.69) (1855,7.62) (1856.9,7.56) (1859,7.52) (1861.3,7.47) (1863,7.40) (1865.7,7.33) (1868,7.28) (1870.2,7.24) (1872,7.15) (1874.6,7.06) (1876.8,6.95) (1879,7.05) (1881.3,6.82) (1883.5,6.95) (1886,6.86) (1888,6.86) (1890,6.80) (1892.4,6.79) (1894.5,6.70) (1896.8,6.62) (1899,6.30) (1901,6.45) (1903.5,6.42) (1905,6.50) (1907,6.38) (1910.1,6.32) (1912,6.35) (1914.5,6.22) (1918,6.20) (1921.2,6.14) (1923,6.05) (1925.7,5.90) (1927.9,5.55) (1929.5,5.70) (1932.3,5.85) (1934.5,5.50) (1936.5,5.68) (1939,5.72) (1941,5.66) (1943.4,5.68) (1945,5.60) (1947.9,5.44) (1950,5.30) (1952.3,4.92) (1954.5,5.42) (1956.5,5.20) (1959,4.92) (1961.2,5.36) (1963.4,4.95) (1965,5.20) (1967,5.28) (1970,5.00) (1972,4.70) (1974.5,4.28) (1976.7,5.08) (1979,4.20) (1981,4.40) (1983.4,4.46) (1985.5,4.32) (1987.8,4.92) (1990,4.80) (1992.2,4.78) (1994.5,4.40) (1996.7,4.10) (1999,4.35) (2001.1,4.28) (2003,4.00) (2005.6,3.83) (2007.8,4.55) (2010,4.15) (2012.2,3.78) (2014,4.10) (2016.7,4.42) (2019,4.00) (2021.1,3.74) (2023,4.00) (2025.5,4.28) (2027.8,3.40) (2030,3.60) (2032.2,3.28) (2034.4,3.92) (2036.6,3.28) (2039,3.50) (2041,4.06) (2043,3.60) (2045.5,3.28) (2048,3.30) (2050,3.24) (2052,3.30) (2054.4,3.28) (2056.5,3.40) (2058.8,3.74) (2061,3.40) (2063.3,3.20) (2065.5,3.74) (2067.5,3.20) (2070,2.84) (2072,3.10) (2074.3,3.56) (2076.5,3.10) (2078.8,2.92) (2081,3.20) (2083.2,3.38) (2085.5,3.00) (2087.6,2.75) (2089.9,3.42) (2092,2.95) (2094.3,2.75) (2096.5,2.90) (2098.8,3.10) (2101,2.80) (2103.2,2.56) (2105.5,2.70) (2107.7,2.92) (2110,2.60) (2112.1,2.47) (2114.3,3.10) (2116.5,2.55) (2118.8,2.43) (2121,2.50) (2125.4,2.78) (2127.5,2.45) (2129.9,2.34) (2132,2.40) (2136.5,2.38) (2138.7,2.78) (2141,2.35) (2143.2,2.25) (2145.5,2.40) (2147.6,2.56) (2150,2.25) (2154.3,2.16) (2156.5,2.30) (2158.7,2.47) (2161,2.15) (2163.2,2.07) (2165,2.10) (2167.6,2.02) (2170,2.10) (2174.3,1.98) (2177,2.05) (2180.9,1.98) (2184,2.08) (2187.6,2.03) (2191,2.10) (2194.2,1.98) (2197,2.05) (2200.9,2.03) (2204,2.08) (2207.6,1.98) (2211,2.05) (2214.2,1.97) (2218,1.90) (2220.9,1.80) (2224.4,1.53) (2227,1.75) (2229.7,1.88) (2234,1.90) (2238.6,1.93) (2243,1.90) (2247.5,1.89) (2258,1.82) (2269.7,1.75) (2281,1.68) (2292,1.62) (2300,1.60) (2312,1.53) (2324.4,1.47) (2336,1.41) (2348.8,1.35) (2361,1.30) (2373.3,1.24) (2385.5,1.18) (2388,1.12) (2390.4,0.97) (2395.2,0.90) (2400,0.88) (2407.4,0.85) (2422.1,0.81) (2446.5,0.73) (2460,0.72) (2470.9,0.66) (2495.3,0.60) (2519.8,0.54) (2544.2,0.52) (2568.6,0.48) (2593,0.45) (2617.4,0.41) (2666.2,0.35) (2715.1,0.28) (2763.9,0.24) (2812.7,0.20) (2861.6,0.17) (2910.4,0.13) (2959.2,0.11) (3019.3,0.09)};
\draw[matblue, line width=0.4pt] (rel axis cs:1,0) -- (rel axis cs:1,1);
\addlegendimage{black, line width=0.9pt}
\addlegendimage{red, line width=0.9pt}
\legend{Mean Radiance 0 to 24h UTC 20241125, .{}.{}. cloudy}
\end{axis}
\end{tikzpicture}
\end{document}
